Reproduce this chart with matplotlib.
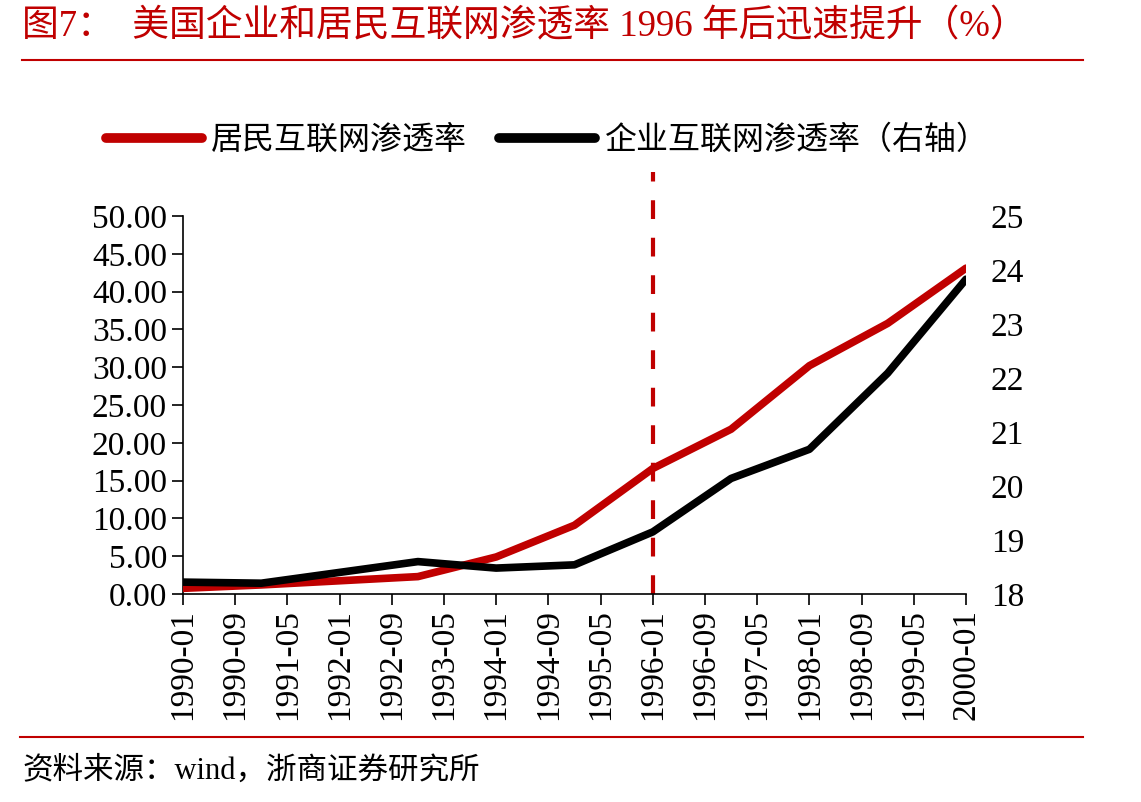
import numpy as np
import matplotlib
matplotlib.use("Agg")
import matplotlib.pyplot as plt
from matplotlib.lines import Line2D

plt.rcParams['font.family'] = ['Liberation Serif', 'Noto Sans CJK SC']

RED = '#C00000'

# data (annual)
dates = ['1990-01', '1991-01', '1992-01', '1993-01', '1994-01', '1995-01',
         '1996-01', '1997-01', '1998-01', '1999-01', '2000-01']
household = [0.75, 1.2, 1.75, 2.3, 4.9, 9.1, 16.6, 21.8, 30.2, 35.8, 43.1]
business = [18.22, 18.20, 18.40, 18.60, 18.48, 18.54, 19.15, 20.14, 20.68, 22.09, 23.83]
tick_labels = ['1990-01', '1990-09', '1991-05', '1992-01', '1992-09', '1993-05',
               '1994-01', '1994-09', '1995-05', '1996-01', '1996-09', '1997-05',
               '1998-01', '1998-09', '1999-05', '2000-01']


def to_month(s):
    y, m = s.split('-')
    return (int(y) - 1990) * 12 + int(m) - 1


xs = [to_month(d) for d in dates]
tick_pos = [to_month(d) for d in tick_labels]

fig = plt.figure(figsize=(11.41, 8.02), dpi=100)
ax = fig.add_axes([183/1141, 208/802, 783/1141, 378/802])
ax2 = ax.twinx()

l1, = ax.plot(xs, household, color=RED, lw=5.5, solid_capstyle='round',
              solid_joinstyle='round', zorder=3)
l2, = ax2.plot(xs, business, color='black', lw=5.5, solid_capstyle='round',
               solid_joinstyle='round', zorder=3)

# dashed marker at 1996-01, runs above the plot area
ax.plot([72, 72], [0, 55.8], color=RED, lw=3, dashes=(4.5, 4.5),
        clip_on=False, zorder=2)

ax.set_xlim(0, 120)
ax.set_ylim(0, 50)
ax2.set_ylim(18, 25)
ax.set_yticks(np.arange(0, 50.1, 5))
ax.set_yticklabels([f'{v:.2f}' for v in np.arange(0, 50.1, 5)])
ax2.set_yticks(range(18, 26))
ax.set_xticks(tick_pos)
ax.set_xticklabels(tick_labels, rotation=90)

for a in (ax, ax2):
    for s in ('top', 'right'):
        a.spines[s].set_visible(False)
ax2.spines['left'].set_visible(False)
ax2.spines['bottom'].set_visible(False)
ax.spines['left'].set_linewidth(1.2)
ax.spines['bottom'].set_linewidth(1.2)

ax.tick_params(axis='both', labelsize=24, direction='out', length=8, width=1.2)
ax.tick_params(axis='x', pad=3)
ax2.tick_params(axis='y', labelsize=24, length=0, pad=18)

leg_handles = [Line2D([], [], color=RED, lw=7, solid_capstyle='round'),
               Line2D([], [], color='black', lw=7, solid_capstyle='round')]
ax.legend(leg_handles, ['居民互联网渗透率', '企业互联网渗透率（右轴）'],
          loc='center', bbox_to_anchor=(0.465, 1.20), ncol=2, frameon=False,
          fontsize=23, handlelength=3.0, handletextpad=0.3, columnspacing=1.0)

# title, rules and source
fig.text(22/1141, 1 - 27/802, '图7：  美国企业和居民互联网渗透率 1996 年后迅速提升（%）',
         color=RED, fontsize=26.5, va='center', ha='left')
fig.add_artist(Line2D([22/1141, 1083/1141], [1 - 60/802, 1 - 60/802],
                      color=RED, lw=1.5))
fig.add_artist(Line2D([20/1141, 1083/1141], [1 - 737/802, 1 - 737/802],
                      color=RED, lw=1.5))
fig.text(22/1141, 1 - 771/802, '资料来源：wind，浙商证券研究所',
         fontsize=22, va='center', ha='left')

fig.savefig('out.png', dpi=100)
